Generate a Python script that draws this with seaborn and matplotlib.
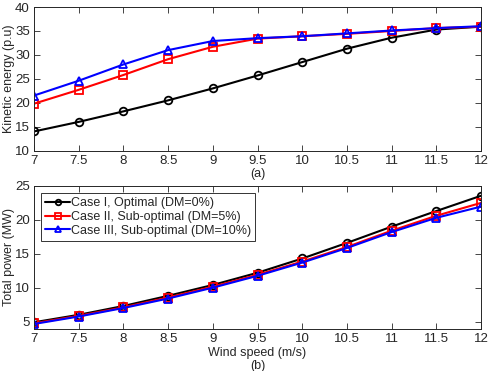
import pandas as pd
import numpy as np
import matplotlib
matplotlib.use('Agg')
import matplotlib.pyplot as plt
import seaborn as sns

sns.set_style('ticks')
plt.rcParams['font.family'] = ['Liberation Sans', 'DejaVu Sans']

wind = [7, 7.5, 8, 8.5, 9, 9.5, 10, 10.5, 11, 11.5, 12]
cases = ['Case I, Optimal (DM=0%)',
         'Case II, Sub-optimal (DM=5%)',
         'Case III, Sub-optimal (DM=10%)']

# kinetic energy (p.u)
ke_case1 = [14.0, 16.0, 18.2, 20.5, 23.0, 25.7, 28.5, 31.3, 33.6, 35.3, 35.9]
ke_case2 = [19.8, 22.7, 25.8, 29.1, 31.7, 33.4, 33.9, 34.4, 35.0, 35.6, 35.9]
ke_case3 = [21.5, 24.6, 28.0, 31.0, 32.9, 33.5, 33.9, 34.5, 35.1, 35.6, 36.0]

# total power (MW)
pw_case1 = [4.9, 6.0, 7.3, 8.8, 10.4, 12.2, 14.3, 16.6, 19.0, 21.3, 23.55]
pw_case2 = [4.75, 5.85, 7.1, 8.55, 10.15, 11.9, 13.85, 16.0, 18.4, 20.6, 22.5]
pw_case3 = [4.65, 5.75, 7.0, 8.4, 10.0, 11.75, 13.7, 15.85, 18.2, 20.3, 21.95]

def long_df(series):
    rows = []
    for name, vals in zip(cases, series):
        for x, y in zip(wind, vals):
            rows.append({'wind': x, 'value': y, 'case': name})
    return pd.DataFrame(rows)

ke_df = long_df([ke_case1, ke_case2, ke_case3])
pw_df = long_df([pw_case1, pw_case2, pw_case3])

palette = dict(zip(cases, ['black', 'red', 'blue']))
markers = dict(zip(cases, ['o', 's', '^']))

fig = plt.figure(figsize=(4.91, 3.71), dpi=100)
ax1 = fig.add_axes([0.069, 0.594, 0.911, 0.387])
ax2 = fig.add_axes([0.069, 0.113, 0.911, 0.386])

for ax, df in [(ax1, ke_df), (ax2, pw_df)]:
    sns.lineplot(data=df, x='wind', y='value', hue='case', style='case',
                 palette=palette, markers=markers, dashes=False, ax=ax,
                 linewidth=1.5, markersize=5.5, markerfacecolor='none',
                 markeredgewidth=1.3, legend=(ax is ax2))
    for line in ax.lines:
        line.set_markeredgecolor(line.get_color())
        line.set_markerfacecolor('none')
    ax.set_xlim(7, 12)
    ax.set_xticks(wind)
    ax.set_xticklabels(['7', '7.5', '8', '8.5', '9', '9.5', '10', '10.5', '11', '11.5', '12'])
    ax.tick_params(direction='in', top=True, right=True, labelsize=9.5, length=4, width=0.6,
                   pad=3)
    for s in ax.spines.values():
        s.set_linewidth(0.7)

ax1.set_ylim(10, 40)
ax1.set_yticks([10, 15, 20, 25, 30, 35, 40])
ax1.set_ylabel('Kinetic energy (p.u)', fontsize=9, labelpad=0)
ax1.set_xlabel('(a)', fontsize=9, labelpad=1)

ax2.set_ylim(3.9, 25)
ax2.set_yticks([5, 10, 15, 20, 25])
ax2.set_ylabel('Total power (MW)', fontsize=9, labelpad=0)
ax2.set_xlabel('Wind speed (m/s)\n(b)', fontsize=9, labelpad=1, linespacing=1.1)

leg = ax2.legend(loc='upper left', fontsize=9, frameon=True, fancybox=False,
                 edgecolor='black', handlelength=2.0, handletextpad=0.1,
                 borderpad=0.3, labelspacing=0.15, borderaxespad=0.6)
leg.get_frame().set_linewidth(0.7)
for h in leg.legend_handles:
    h.set_markersize(4)
    h.set_markerfacecolor('none')
    h.set_markeredgecolor(h.get_color())

fig.savefig('out.png', dpi=100)
